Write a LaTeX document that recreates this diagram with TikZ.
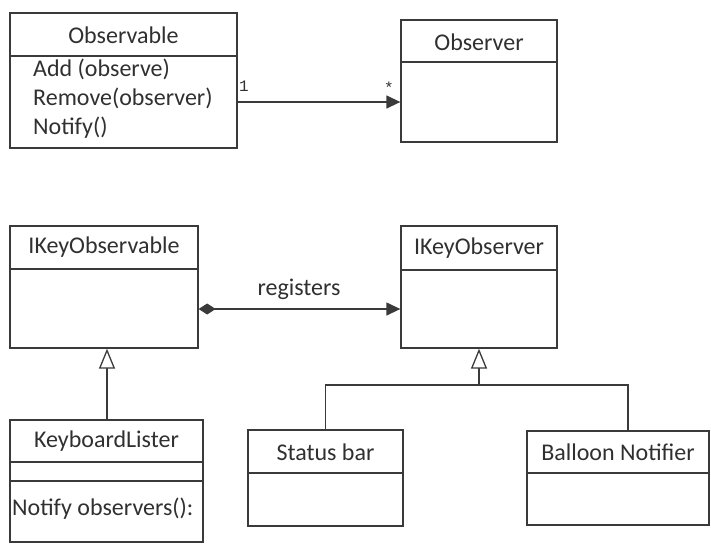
\documentclass[tikz,border=0pt]{standalone}
\usepackage{fontspec}
\setmainfont{Carlito}
\newfontfamily\monofont{Liberation Mono}
\usetikzlibrary{arrows.meta}
\definecolor{ink}{HTML}{3A3A3A}
\definecolor{txt}{HTML}{303030}
\tikzset{
  umlbox/.style={draw=ink, line width=1.3pt, inner sep=0pt, fill=none},
  divider/.style={draw=ink, line width=1.3pt},
  label/.style={text=txt, inner sep=0pt, font=\fontsize{24}{28}\selectfont},
  mult/.style={text=txt, inner sep=0pt, font=\monofont\fontsize{16}{18}\selectfont},
  link/.style={draw=ink, line width=1.3pt},
  assoc/.style={link, -{Triangle[length=14pt,width=13pt]}},
  compo/.style={link, {Diamond[length=17pt,width=11pt]}-{Triangle[length=14pt,width=13pt]}},
  inherit/.style={link, -{Triangle[open,length=20pt,width=16pt,fill=white]}},
}
\begin{document}
\begin{tikzpicture}[x=1pt,y=-1pt]
\useasboundingbox (0,0) rectangle (711,550);

% ---------- Observable / Observer ----------
\node[umlbox, minimum width=227pt, minimum height=135pt] (obs) at (123.5,80.5) {};
\draw[divider] (obs.west |- 0,56) -- (obs.east |- 0,56);
\node[label] (obsT) at (123.5,35) {Observable};
\node[label, anchor=mid west] (obsA) at (33,74) {Add (observe)};
\node[label, anchor=mid west] (obsR) at (33,103) {Remove(observer)};
\node[label, anchor=mid west] (obsN) at (33,132) {Notify()};

\node[umlbox, minimum width=156pt, minimum height=122pt] (obv) at (479,81) {};
\draw[divider] (obv.west |- 0,62) -- (obv.east |- 0,62);
\node[label] (obvT) at (479,42) {Observer};

\draw[assoc] (obs.east |- 0,102) -- (obv.west |- 0,102);
\node[mult, anchor=west] (m1) at (239,86) {1};
\node[mult] (m2) at (389,88) {*};

% ---------- IKeyObservable / IKeyObserver ----------
\node[umlbox, minimum width=188pt, minimum height=122pt] (iko) at (104,287) {};
\draw[divider] (iko.west |- 0,269) -- (iko.east |- 0,269);
\node[label] (ikoT) at (104,247) {IKeyObservable};

\node[umlbox, minimum width=156pt, minimum height=122pt] (ikr) at (479,287) {};
\draw[divider] (ikr.west |- 0,270) -- (ikr.east |- 0,270);
\node[label] (ikrT) at (479,248) {IKeyObserver};

\draw[compo] (iko.east |- 0,309) -- (ikr.west |- 0,309);
\node[label] (reg) at (299,289) {registers};

% ---------- KeyboardLister ----------
\node[umlbox, minimum width=193pt, minimum height=122pt] (kl) at (106.5,481) {};
\draw[divider] (kl.west |- 0,462) -- (kl.east |- 0,462);
\draw[divider] (kl.west |- 0,481) -- (kl.east |- 0,481);
\node[label] (klT) at (106.5,441) {KeyboardLister};
\node[label, anchor=mid west] (klN) at (12,513) {Notify observers():};

\coordinate (klTop) at (107,420);
\draw[inherit] (klTop) -- (klTop |- iko.south);

% ---------- Status bar / Balloon Notifier ----------
\node[umlbox, minimum width=155pt, minimum height=96pt] (sb) at (325.5,478) {};
\draw[divider] (sb.west |- 0,473) -- (sb.east |- 0,473);
\node[label] (sbT) at (325.5,452) {Status bar};

\node[umlbox, minimum width=182pt, minimum height=94pt] (bn) at (618,478) {};
\draw[divider] (bn.west |- 0,473) -- (bn.east |- 0,473);
\node[label] (bnT) at (618,452) {Balloon Notifier};

\coordinate (join) at (479,385);
\coordinate (bnTop) at (628,431);
\draw[link] (sb.north) |- (join) -| (bnTop);
\draw[inherit] (join) -- (ikr.south);
\end{tikzpicture}
\end{document}
